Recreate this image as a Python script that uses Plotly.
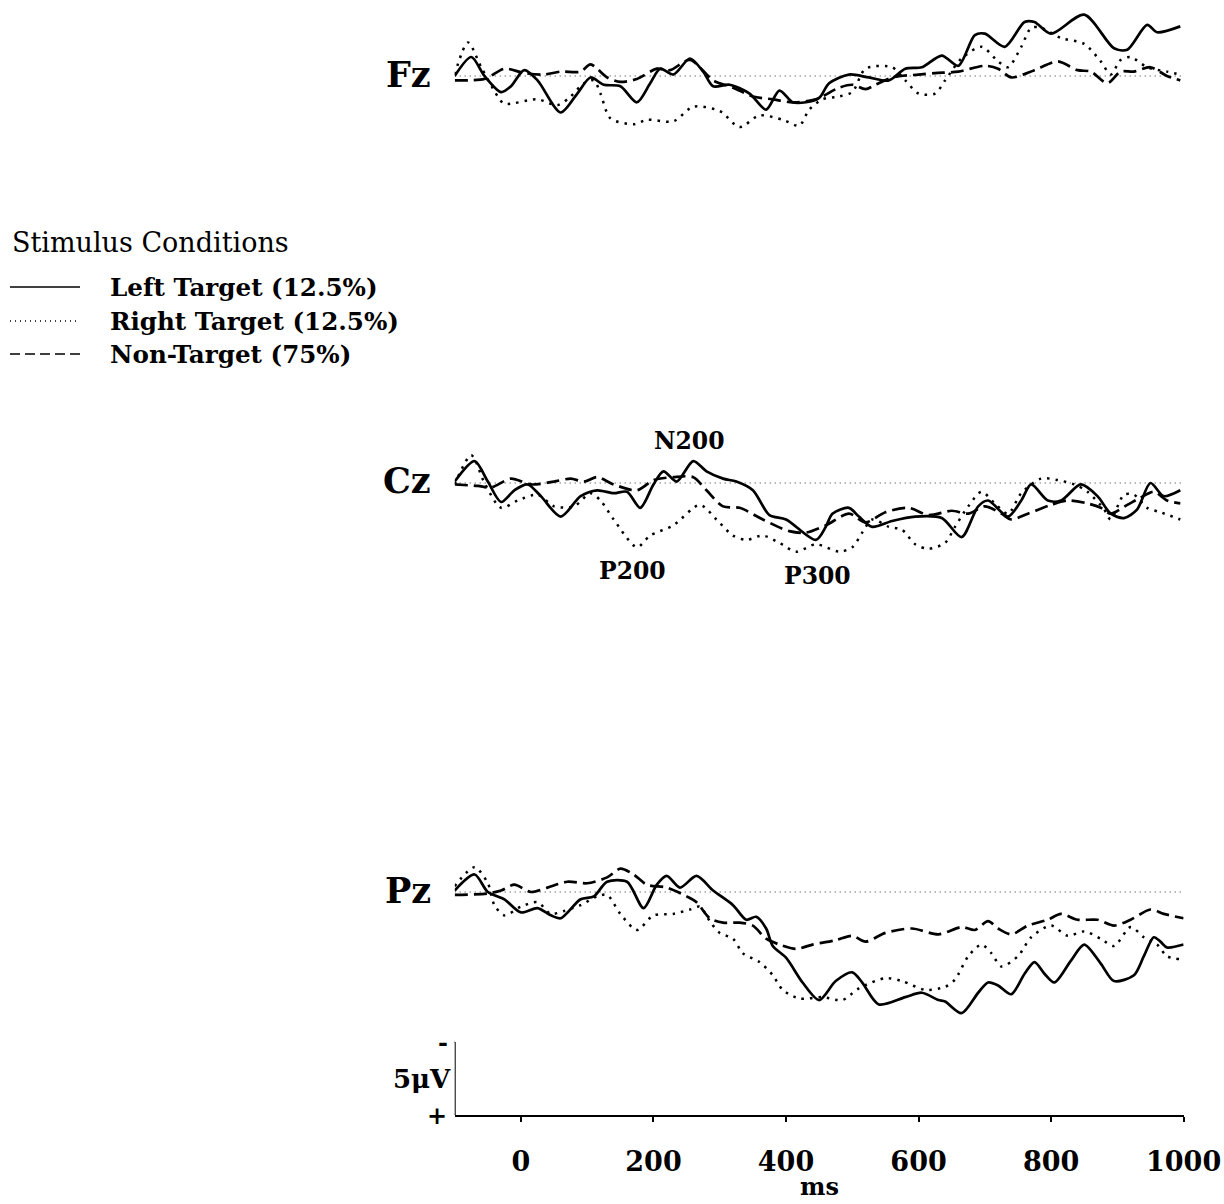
import plotly.graph_objects as go

# ---------------- data (ms, microvolts; positive plotted downward) ----------------
electrodes = ["Fz", "Cz", "Pz"]
conditions = ["Left Target (12.5%)", "Right Target (12.5%)", "Non-Target (75%)"]

fz_left_ms = [-100, -75, -55, -30, -15, 5, 25, 60, 85, 105, 125, 150, 175, 195, 210, 230, 255, 275, 290, 315,
              345, 370, 390, 410, 430, 450, 465, 495, 525, 555, 580, 605, 635, 660, 685, 700, 730, 760, 775, 800,
              850, 895, 915, 945, 960, 995]
fz_left_uv = [0.0, -1.3, 0.0, 1.1, 0.7, -0.4, 0.3, 2.5, 1.2, 0.1, 0.6, 0.7, 1.8, 0.5, -0.5, -0.1, -1.2, -0.3, 0.7, 0.6,
              1.2, 2.3, 1.0, 1.8, 1.8, 1.5, 0.5, -0.1, 0.1, 0.3, -0.5, -0.6, -1.4, -0.7, -2.8, -2.9, -2.0, -3.7, -3.7, -2.9,
              -4.2, -1.9, -1.8, -3.5, -3.0, -3.4]

fz_right_ms = [-100, -80, -60, -35, -25, 25, 55, 75, 95, 110, 120, 135, 170, 190, 230, 260, 300, 330, 360, 395,
               420, 435, 455, 480, 500, 520, 560, 580, 600, 625, 640, 665, 695, 720, 735, 755, 770, 785, 815, 850,
               875, 890, 905, 920, 945, 975, 995]
fz_right_uv = [-0.1, -2.3, -0.6, 1.4, 1.9, 1.6, 2.0, 1.4, 0.5, 0.3, 1.2, 2.9, 3.3, 3.0, 3.1, 2.1, 2.4, 3.5, 2.7, 3.0,
               3.4, 2.3, 1.6, 1.4, 1.1, -0.5, -0.6, 0.3, 1.2, 1.2, 0.3, -1.2, -2.0, -1.0, -0.6, -2.0, -3.3, -3.3, -2.6, -2.2,
               -1.0, -0.1, -1.1, -1.3, -0.6, -0.3, -0.1]

fz_non_ms = [-100, -55, -25, 5, 35, 60, 90, 105, 130, 150, 175, 205, 225, 255, 290, 320, 350, 380, 410, 445,
             480, 500, 520, 535, 560, 600, 625, 660, 700, 720, 740, 775, 810, 840, 860, 885, 905, 925, 950, 975, 995]
fz_non_uv = [0.3, 0.2, -0.5, -0.2, -0.1, -0.3, -0.3, -0.8, 0.1, 0.4, 0.2, -0.5, -0.4, -1.1, 0.3, 0.8, 1.4, 1.6, 1.8, 1.6,
             0.8, 0.6, 0.9, 0.6, 0.1, -0.1, -0.2, -0.3, -0.7, -0.5, 0.1, -0.4, -1.0, -0.4, -0.3, 0.5, -0.3, -0.3, -0.6, 0.0, 0.3]

cz_left_ms = [-100, -70, -50, -30, -10, 10, 30, 60, 90, 115, 140, 160, 180, 200, 215, 235, 260, 280, 305, 325,
              350, 375, 400, 445, 460, 470, 495, 510, 530, 560, 595, 635, 665, 690, 705, 735, 755, 770, 795, 815,
              845, 870, 890, 910, 930, 950, 970, 995]
cz_left_uv = [-0.1, -1.5, -0.1, 1.3, 0.5, 0.1, 0.9, 2.3, 0.9, 0.5, 0.7, 0.6, 1.7, 0.1, -0.8, -0.1, -1.5, -0.8, -0.3, -0.1,
              0.5, 2.2, 2.5, 3.9, 3.0, 2.1, 1.7, 2.3, 3.0, 2.6, 2.3, 2.4, 3.7, 1.6, 1.2, 2.3, 1.2, 0.1, 1.2, 1.2,
              0.1, 0.9, 2.1, 2.4, 1.8, 0.0, 0.9, 0.5]

cz_right_ms = [-100, -75, -55, -30, -5, 25, 50, 80, 105, 120, 140, 175, 195, 230, 270, 295, 320, 340, 365, 390,
               415, 445, 480, 500, 515, 530, 555, 575, 595, 615, 640, 655, 675, 695, 715, 735, 755, 785, 810, 835,
               855, 880, 890, 910, 925, 945, 965, 995]
cz_right_uv = [0.1, -1.9, 0.0, 1.7, 1.2, 0.8, 1.6, 1.6, 0.7, 1.2, 2.5, 4.4, 3.6, 2.9, 1.5, 2.5, 3.6, 3.9, 3.6, 4.1,
               4.7, 4.2, 4.7, 4.4, 3.4, 2.5, 3.0, 3.2, 4.2, 4.5, 4.1, 3.0, 1.6, 0.6, 1.4, 2.1, 0.7, -0.3, -0.2, 0.1,
               0.6, 1.8, 2.5, 0.8, 0.8, 1.7, 2.0, 2.5]

cz_non_ms = [-100, -65, -45, -15, 15, 50, 75, 95, 115, 140, 175, 200, 230, 260, 280, 305, 330, 365, 405, 430,
             460, 495, 520, 550, 585, 615, 650, 675, 700, 725, 740, 765, 800, 825, 855, 875, 890, 915, 935, 955, 975, 995]
cz_non_uv = [0.1, 0.2, 0.3, -0.3, 0.1, -0.1, -0.3, -0.1, -0.4, 0.1, 0.5, -0.2, -0.4, -0.4, 0.5, 1.6, 1.7, 2.5, 3.3, 3.4,
             2.9, 2.1, 2.7, 2.0, 1.7, 2.2, 1.9, 2.1, 1.6, 2.1, 2.5, 2.1, 1.5, 1.2, 1.4, 1.7, 2.1, 1.5, 1.0, 0.6, 1.2, 1.4]

pz_left_ms = [-100, -70, -50, -25, 0, 25, 45, 60, 90, 110, 130, 160, 185, 205, 220, 240, 265, 290, 320, 340,
              355, 370, 380, 400, 425, 450, 475, 500, 515, 540, 580, 605, 630, 640, 665, 690, 705, 720, 740, 760,
              775, 790, 805, 830, 850, 875, 895, 925, 940, 955, 965, 975, 1000]
pz_left_uv = [-0.1, -1.2, 0.0, 0.5, 1.4, 1.1, 1.6, 1.8, 0.5, 0.3, -0.7, -0.7, 1.1, -0.5, -1.1, -0.3, -1.1, -0.1, 0.9, 1.9,
              1.7, 2.5, 3.7, 4.5, 6.2, 7.4, 6.1, 5.5, 6.2, 7.7, 7.2, 6.9, 7.4, 7.5, 8.3, 6.9, 6.2, 6.4, 7.0, 5.6,
              4.8, 5.6, 6.2, 4.7, 3.6, 4.9, 6.1, 5.7, 4.4, 3.1, 3.4, 3.8, 3.6]

pz_right_ms = [-100, -70, -50, -40, -25, 0, 25, 45, 65, 90, 115, 130, 150, 175, 200, 230, 255, 270, 285, 300,
               320, 335, 360, 380, 395, 420, 455, 485, 510, 550, 575, 610, 640, 655, 675, 695, 710, 725, 750, 770,
               800, 825, 850, 875, 895, 920, 940, 960, 975, 995]
pz_right_uv = [-0.4, -1.7, -0.6, 0.9, 1.6, 1.0, 0.7, 1.5, 1.3, 0.9, 0.3, 0.2, 1.5, 2.6, 1.6, 1.5, 1.2, 1.0, 2.0, 2.8,
               3.2, 4.2, 4.8, 5.7, 6.7, 7.3, 7.2, 7.4, 6.6, 5.9, 6.1, 6.7, 6.5, 6.0, 4.4, 3.6, 4.2, 5.1, 4.4, 3.1,
               2.3, 3.0, 2.7, 3.2, 3.7, 2.4, 3.1, 3.6, 4.4, 4.6]

pz_non_ms = [-100, -50, -30, -10, 15, 40, 70, 100, 130, 150, 170, 190, 220, 250, 265, 285, 305, 330, 350, 370,
             390, 415, 440, 475, 500, 520, 550, 590, 630, 665, 685, 705, 720, 740, 765, 795, 815, 840, 870, 895,
             920, 950, 970, 1000]
pz_non_uv = [0.2, 0.1, -0.1, -0.5, 0.0, -0.3, -0.7, -0.6, -1.0, -1.6, -1.2, -0.5, -0.3, 0.3, 0.7, 1.8, 2.1, 2.1, 2.3, 3.2,
             3.6, 3.9, 3.6, 3.3, 3.0, 3.4, 2.8, 2.5, 2.9, 2.4, 2.6, 2.0, 2.5, 2.9, 2.3, 1.9, 1.5, 1.9, 1.9, 2.3,
             1.9, 1.2, 1.5, 1.8]

waves = {
    "Fz": [(fz_left_ms, fz_left_uv), (fz_right_ms, fz_right_uv), (fz_non_ms, fz_non_uv)],
    "Cz": [(cz_left_ms, cz_left_uv), (cz_right_ms, cz_right_uv), (cz_non_ms, cz_non_uv)],
    "Pz": [(pz_left_ms, pz_left_uv), (pz_right_ms, pz_right_uv), (pz_non_ms, pz_non_uv)],
}

x_range_ms = [-100, 1000]
x_ticks = [0, 200, 400, 600, 800, 1000]
x_title = "ms"
scale_bar_uv = 5
scale_bar_label = "5\u03bcV"
legend_title = "Stimulus Conditions"
peak_labels = ["N200", "P200", "P300"]
peak_ms = [255, 168, 448]
peak_uv = [-2.9, 6.0, 6.4]

# ---------------- layout geometry / styles ----------------
W, H = 1224, 1204
PX_PER_UV = 14.6
FONT = "DejaVu Serif"


def fx(px):  # page pixel -> paper x
    return px / W


def fy(px):  # page pixel -> paper y
    return 1 - px / H


X_DOMAIN = [fx(454.7), fx(1183.6)]
PANEL_PX = {"Fz": (0, 168, 76), "Cz": (400, 620, 483), "Pz": (830, 1115, 892)}  # top, bottom, zero line
styles = [dict(color="black", width=2.7, dash="solid"),
          dict(color="black", width=2.5, dash="2.5px,6px"),
          dict(color="black", width=2.7, dash="13px,6px")]

fig = go.Figure()
layout = dict(width=W, height=H, autosize=False, margin=dict(l=0, r=0, t=0, b=0, autoexpand=False),
              paper_bgcolor="white", plot_bgcolor="white", showlegend=False)
shapes, annotations = [], []

for i, el in enumerate(electrodes):
    n = i + 1
    xa, ya = ("x", "y") if n == 1 else (f"x{n}", f"y{n}")
    top, bot, zero = PANEL_PX[el]
    yr = [(bot - zero) / PX_PER_UV, (top - zero) / PX_PER_UV]
    layout["xaxis" if n == 1 else f"xaxis{n}"] = dict(domain=X_DOMAIN, range=x_range_ms, anchor=ya,
                                                       visible=False, showgrid=False, zeroline=False)
    layout["yaxis" if n == 1 else f"yaxis{n}"] = dict(domain=[fy(bot), fy(top)], range=yr, anchor=xa,
                                                       visible=False, showgrid=False, zeroline=False)
    for (xs, ys), st, name in zip(waves[el], styles, conditions):
        fig.add_trace(go.Scatter(x=xs, y=ys, mode="lines", name=name, xaxis=xa, yaxis=ya,
                                 line=dict(shape="spline", smoothing=0.8, **st), hoverinfo="skip"))
    shapes.append(dict(type="line", xref=xa, yref=ya, x0=x_range_ms[0], x1=x_range_ms[1], y0=0, y1=0,
                       line=dict(color="#333", width=1, dash="1px,4px"), layer="below"))
    annotations.append(dict(xref=f"{xa} domain", x=0, xanchor="right", xshift=-22, yref=ya, y=0,
                            yanchor="middle", yshift=2, showarrow=False, text=f"<b>{el}</b>",
                            font=dict(family=FONT, size=35, color="black")))

# bottom x axis (Pz panel)
layout["xaxis3"].update(visible=True, showline=True, linecolor="black", linewidth=2,
                        ticks="outside", tickvals=x_ticks, ticklen=5, tickwidth=1.5, tickcolor="black",
                        ticklabelstandoff=17, ticklabeloverflow="allow",
                        tickfont=dict(family=FONT, size=27, color="black", weight="bold"))
annotations.append(dict(xref="x3 domain", x=0.5, yref="paper", y=fy(1186), yanchor="middle", showarrow=False,
                        text=f"<b>{x_title}</b>", font=dict(family=FONT, size=24, color="black")))

# scale bar
pz_bot_uv = (PANEL_PX["Pz"][1] - PANEL_PX["Pz"][2]) / PX_PER_UV
sb_top = pz_bot_uv - scale_bar_uv
tick_ms = 12
shapes += [
    dict(type="line", xref="x3", yref="y3", x0=x_range_ms[0], x1=x_range_ms[0], y0=pz_bot_uv, y1=sb_top,
         line=dict(color="black", width=2)),
    dict(type="line", xref="x3", yref="y3", x0=x_range_ms[0] - tick_ms, x1=x_range_ms[0], y0=sb_top, y1=sb_top,
         line=dict(color="black", width=2)),
    dict(type="line", xref="x3", yref="y3", x0=x_range_ms[0] - tick_ms, x1=x_range_ms[0], y0=pz_bot_uv, y1=pz_bot_uv,
         line=dict(color="black", width=2)),
]
for txt, yv, xs, sz in [("-", sb_top, -5, 24), (scale_bar_label, (sb_top + pz_bot_uv) / 2, -2, 26),
                        ("+", pz_bot_uv, -6, 24)]:
    annotations.append(dict(xref="x3", x=x_range_ms[0], xanchor="right", xshift=xs, yref="y3", y=yv,
                            yanchor="middle", showarrow=False, text=f"<b>{txt}</b>",
                            font=dict(family=FONT, size=sz, color="black")))

# peak labels on Cz
for lab, xm, yv in zip(peak_labels, peak_ms, peak_uv):
    annotations.append(dict(xref="x2", yref="y2", x=xm, y=yv, showarrow=False, text=f"<b>{lab}</b>",
                            font=dict(family=FONT, size=23.5, color="black")))

# custom legend
annotations.append(dict(xref="paper", yref="paper", x=fx(10), y=fy(242), xanchor="left", yanchor="middle",
                        showarrow=False, text=legend_title, font=dict(family=FONT, size=27, color="black")))
legend_dash = ["solid", "1px,4px", "10px,5px"]
for k, name in enumerate(conditions):
    yk = [287, 321, 354][k]
    shapes.append(dict(type="line", xref="paper", yref="paper", x0=fx(10), x1=fx(80), y0=fy(yk), y1=fy(yk),
                       line=dict(color="black", width=1.6, dash=legend_dash[k])))
    annotations.append(dict(xref="paper", yref="paper", x=fx(108), y=fy(yk), xanchor="left", yanchor="middle",
                            showarrow=False, text=f"<b>{name}</b>",
                            font=dict(family=FONT, size=24.6, color="black")))

layout["shapes"] = shapes
layout["annotations"] = annotations
fig.update_layout(**layout)
fig.write_html("out.html", config={"responsive": False, "displayModeBar": False},
               post_script="document.body.style.margin='0px'; document.body.style.overflow='hidden';")
